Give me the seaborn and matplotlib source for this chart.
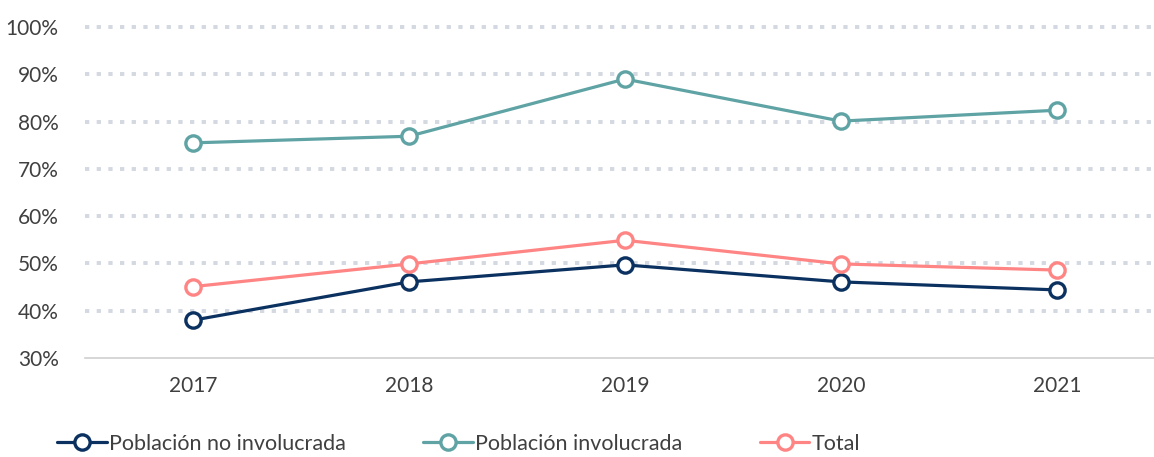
import matplotlib
matplotlib.use("Agg")
import matplotlib.pyplot as plt
import seaborn as sns
import pandas as pd
from matplotlib.ticker import FuncFormatter
from matplotlib.lines import Line2D

# data (%)
years = ["2017", "2018", "2019", "2020", "2021"]
no_involucrada = [38.0, 46.1, 49.7, 46.1, 44.4]
involucrada = [75.5, 76.9, 89.0, 80.1, 82.4]
total = [45.1, 49.9, 54.9, 49.9, 48.6]

series_names = ["Población no involucrada", "Población involucrada", "Total"]
colors = ["#0B3160", "#5FA3A5", "#FF8585"]

df = pd.DataFrame({
    "year": years * 3,
    "value": no_involucrada + involucrada + total,
    "serie": [series_names[0]] * 5 + [series_names[1]] * 5 + [series_names[2]] * 5,
})

sns.set_style("white")
plt.rcParams["font.family"] = ["Lato", "DejaVu Sans"]

fig = plt.figure(figsize=(11.54, 4.57), dpi=100)
ax = fig.add_axes([0.0737, 0.2166, 0.9263, 0.7243])

# dotted gridlines
for v in range(40, 101, 10):
    ax.axhline(v, color="#D3D8E1", lw=2.8, linestyle=(0, (1.1, 1.9)),
               dash_capstyle="butt", zorder=0, clip_on=False)

sns.lineplot(data=df, x="year", y="value", hue="serie", palette=colors,
             hue_order=series_names, marker="o", lw=2.3, ms=11,
             legend=False, ax=ax, zorder=3)

for line, c in zip(ax.lines[-3:], colors):
    line.set_markerfacecolor("white")
    line.set_markeredgecolor(c)
    line.set_markeredgewidth(2.4)
    line.set_clip_on(False)

ax.set_ylim(30, 100)
ax.set_xlim(-0.5, 4.45)
ax.set_yticks(range(30, 101, 10))
ax.yaxis.set_major_formatter(FuncFormatter(lambda v, p: f"{v:.0f}%"))
ax.set_xlabel("")
ax.set_ylabel("")
ax.tick_params(axis="both", length=0, labelsize=15, colors="#404040")
ax.tick_params(axis="x", pad=13)
ax.tick_params(axis="y", pad=19)

for s in ["top", "right", "left"]:
    ax.spines[s].set_visible(False)
ax.spines["bottom"].set_color("#D0D0D0")
ax.spines["bottom"].set_linewidth(1.2)

handles = [Line2D([0], [0], color=c, lw=2.3, marker="o", ms=11,
                  mfc="white", mec=c, mew=2.4) for c in colors]
fig.legend(handles, series_names, loc="lower left", bbox_to_anchor=(0.033, -0.035),
           ncol=3, frameon=False, fontsize=15.5, handlelength=2.3,
           handletextpad=0.1, columnspacing=3.6, labelcolor="#404040")

fig.savefig("out.png", dpi=100)
